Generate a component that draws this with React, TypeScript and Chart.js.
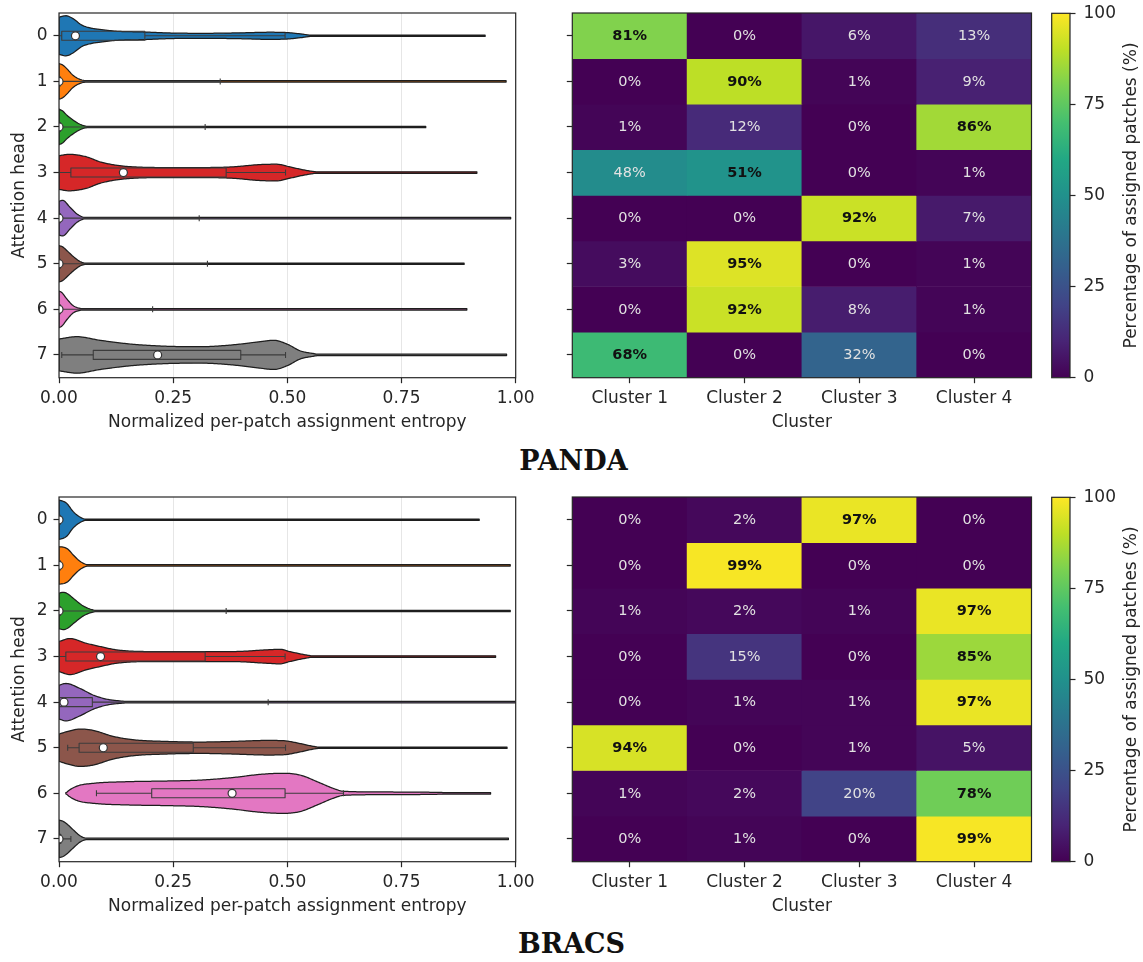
import React, { useEffect, useRef } from 'react';
import { Chart, registerables } from 'chart.js';

Chart.register(...registerables);
Chart.defaults.font.family = "'DejaVu Sans', sans-serif";

// ---------------- categories & ticks ----------------
const HEADS = ['0', '1', '2', '3', '4', '5', '6', '7'];
const CLUSTERS = ['Cluster 1', 'Cluster 2', 'Cluster 3', 'Cluster 4'];
const ENTROPY_TICKS = [0, 0.25, 0.5, 0.75, 1.0];
const PERCENT_TICKS = [0, 25, 50, 75, 100];
const HEAD_COLORS = ['#1f77b4', '#ff7f0e', '#2ca02c', '#d62728', '#9467bd', '#8c564b', '#e377c2', '#7f7f7f'];
const VIRIDIS = ['#440154', '#482475', '#414487', '#355f8d', '#2a788e', '#21918c', '#22a884', '#44bf70', '#7ad151', '#bddf26', '#fde725'];

// ---------------- heatmap values (% of patches, per head row) ----------------
const pandaCluster1 = [81, 0, 1, 48, 0, 3, 0, 68];
const pandaCluster2 = [0, 90, 12, 51, 0, 95, 92, 0];
const pandaCluster3 = [6, 1, 0, 0, 92, 0, 8, 32];
const pandaCluster4 = [13, 9, 86, 1, 7, 1, 1, 0];

const bracsCluster1 = [0, 0, 1, 0, 0, 94, 1, 0];
const bracsCluster2 = [2, 99, 2, 15, 1, 0, 2, 1];
const bracsCluster3 = [97, 0, 1, 0, 1, 1, 20, 0];
const bracsCluster4 = [0, 0, 97, 85, 97, 5, 78, 99];

// ---------------- violin density profiles: [entropy, half-width in head units] ----------------
const pandaProfiles = [
  [[0, 0.41], [0.015, 0.44], [0.03, 0.38], [0.05, 0.235], [0.07, 0.17], [0.09, 0.14], [0.126, 0.1], [0.18, 0.085], [0.25, 0.06], [0.32, 0.055], [0.4, 0.065], [0.46, 0.078], [0.5, 0.07], [0.53, 0.04], [0.556, 0.01]],
  [[0, 0.39], [0.008, 0.36], [0.017, 0.28], [0.031, 0.13], [0.046, 0.045], [0.06, 0.012], [0.08, 0.003]],
  [[0, 0.39], [0.008, 0.35], [0.017, 0.26], [0.031, 0.15], [0.046, 0.06], [0.057, 0.022], [0.075, 0.005]],
  [[0, 0.37], [0.022, 0.4], [0.06, 0.345], [0.09, 0.235], [0.126, 0.16], [0.163, 0.125], [0.236, 0.11], [0.31, 0.11], [0.38, 0.125], [0.44, 0.175], [0.476, 0.183], [0.505, 0.125], [0.54, 0.05], [0.57, 0.012]],
  [[0, 0.37], [0.008, 0.39], [0.024, 0.24], [0.039, 0.095], [0.053, 0.022], [0.07, 0.004]],
  [[0, 0.4], [0.008, 0.37], [0.017, 0.29], [0.031, 0.16], [0.046, 0.05], [0.056, 0.015], [0.07, 0.004]],
  [[0, 0.4], [0.006, 0.37], [0.017, 0.23], [0.031, 0.08], [0.046, 0.022], [0.06, 0.004]],
  [[0, 0.35], [0.039, 0.4], [0.09, 0.32], [0.16, 0.235], [0.236, 0.19], [0.309, 0.18], [0.38, 0.22], [0.44, 0.29], [0.47, 0.32], [0.5, 0.235], [0.528, 0.09], [0.557, 0.03], [0.575, 0.005]],
];
const pandaMax = [0.933, 0.979, 0.803, 0.915, 0.989, 0.887, 0.893, 0.98];
const pandaQ1 = [0.006, 0, 0, 0.026, 0, 0, 0, 0.075];
const pandaQ3 = [0.188, 0.003, 0.003, 0.366, 0.003, 0.003, 0.003, 0.398];
const pandaMedian = [0.036, 0, 0, 0.141, 0, 0, 0, 0.216];
const pandaWhiskerLo = [0, 0, 0, 0, 0, 0, 0, 0.006];
const pandaWhiskerHi = [0.495, 0.353, 0.32, 0.496, 0.307, 0.325, 0.205, 0.496];

const bracsProfiles = [
  [[0, 0.43], [0.008, 0.41], [0.017, 0.36], [0.031, 0.18], [0.046, 0.06], [0.057, 0.015], [0.075, 0.004]],
  [[0, 0.41], [0.01, 0.4], [0.02, 0.35], [0.031, 0.23], [0.046, 0.09], [0.06, 0.02], [0.075, 0.004]],
  [[0, 0.39], [0.01, 0.41], [0.02, 0.37], [0.031, 0.28], [0.053, 0.11], [0.075, 0.022], [0.09, 0.004]],
  [[0, 0.33], [0.024, 0.395], [0.06, 0.29], [0.09, 0.22], [0.126, 0.147], [0.2, 0.11], [0.31, 0.11], [0.38, 0.11], [0.455, 0.147], [0.484, 0.16], [0.505, 0.11], [0.54, 0.037], [0.565, 0.005]],
  [[0, 0.37], [0.015, 0.41], [0.046, 0.3], [0.075, 0.155], [0.104, 0.066], [0.13, 0.03], [0.16, 0.01], [0.2, 0.004]],
  [[0, 0.3], [0.02, 0.36], [0.046, 0.41], [0.075, 0.38], [0.118, 0.25], [0.163, 0.175], [0.236, 0.138], [0.31, 0.125], [0.38, 0.138], [0.455, 0.16], [0.49, 0.155], [0.53, 0.088], [0.557, 0.03], [0.58, 0.005]],
  [[0.015, 0], [0.02, 0.05], [0.04, 0.16], [0.076, 0.22], [0.15, 0.255], [0.236, 0.27], [0.31, 0.29], [0.38, 0.345], [0.44, 0.415], [0.49, 0.44], [0.528, 0.4], [0.57, 0.235], [0.6, 0.11], [0.623, 0.045], [0.7, 0.03], [0.8, 0.025], [0.87, 0.012], [0.92, 0.004]],
  [[0, 0.41], [0.008, 0.39], [0.017, 0.33], [0.031, 0.2], [0.046, 0.07], [0.057, 0.02], [0.075, 0.004]],
];
const bracsMax = [0.92, 0.988, 0.988, 0.956, 1.0, 0.981, 0.945, 0.984];
const bracsQ1 = [0, 0, 0, 0.015, 0, 0.044, 0.203, 0];
const bracsQ3 = [0.003, 0.003, 0.003, 0.32, 0.073, 0.294, 0.495, 0.004];
const bracsMedian = [0, 0, 0, 0.091, 0.011, 0.097, 0.379, 0];
const bracsWhiskerLo = [0, 0, 0, 0, 0, 0.019, 0.082, 0];
const bracsWhiskerHi = [0.004, 0.004, 0.366, 0.495, 0.458, 0.496, 0.623, 0.026];

// ---------------- style constants ----------------
const TEXT = '#262626';
const FONT = { family: "'DejaVu Sans', sans-serif", size: 17 };
const CANVAS_H = 435;
const AREA_TOP = 13;
const AREA_BOTTOM = 377.7;
const VIOLIN_W = 545;
const HEAT_LEFT = 545;
const HEAT_W = 495;
const CBAR_LEFT = 1040;
const CBAR_W = 103;

function hexToRgb(h: string) {
  const n = parseInt(h.slice(1), 16);
  return [(n >> 16) & 255, (n >> 8) & 255, n & 255];
}
function viridis(v: number) {
  const t = Math.max(0, Math.min(1, v / 100)) * (VIRIDIS.length - 1);
  const i = Math.min(Math.floor(t), VIRIDIS.length - 2);
  const f = t - i;
  const a = hexToRgb(VIRIDIS[i]);
  const b = hexToRgb(VIRIDIS[i + 1]);
  const c = a.map((x, k) => Math.round(x + (b[k] - x) * f));
  return `rgb(${c[0]},${c[1]},${c[2]})`;
}

function monotone(pts: number[][]) {
  const n = pts.length;
  const xs = pts.map((p) => p[0]);
  const ys = pts.map((p) => p[1]);
  const d: number[] = [];
  const m: number[] = new Array(n).fill(0);
  for (let i = 0; i < n - 1; i++) d[i] = (ys[i + 1] - ys[i]) / (xs[i + 1] - xs[i]);
  m[0] = d[0];
  m[n - 1] = d[n - 2];
  for (let i = 1; i < n - 1; i++) m[i] = d[i - 1] * d[i] <= 0 ? 0 : (d[i - 1] + d[i]) / 2;
  for (let i = 0; i < n - 1; i++) {
    if (d[i] === 0) { m[i] = 0; m[i + 1] = 0; continue; }
    const a = m[i] / d[i];
    const b = m[i + 1] / d[i];
    const s = a * a + b * b;
    if (s > 9) {
      const t = 3 / Math.sqrt(s);
      m[i] = t * a * d[i];
      m[i + 1] = t * b * d[i];
    }
  }
  return (v: number) => {
    if (v <= xs[0]) return ys[0];
    if (v >= xs[n - 1]) return ys[n - 1];
    let i = 0;
    while (i < n - 2 && v > xs[i + 1]) i++;
    const h = xs[i + 1] - xs[i];
    const t = (v - xs[i]) / h;
    const t2 = t * t;
    const t3 = t2 * t;
    return (2 * t3 - 3 * t2 + 1) * ys[i] + (t3 - 2 * t2 + t) * h * m[i] + (-2 * t3 + 3 * t2) * ys[i + 1] + (t3 - t2) * h * m[i + 1];
  };
}

// keep the plot area exactly where the layout padding puts it
const noPad = (s: any) => {
  s.paddingTop = 0;
  s.paddingBottom = 0;
  s.paddingLeft = 0;
  s.paddingRight = 0;
};

const framePlugin = {
  id: 'frame',
  afterDraw(chart: any) {
    const { ctx, chartArea: a } = chart;
    ctx.save();
    ctx.strokeStyle = TEXT;
    ctx.lineWidth = 1.2;
    ctx.strokeRect(a.left, a.top, a.right - a.left, a.bottom - a.top);
    ctx.restore();
  },
};

function violinPlugin(spec: any) {
  return {
    id: 'violins',
    beforeDatasetsDraw(chart: any) {
      const { ctx, chartArea: a, scales } = chart;
      const xs = scales.x;
      const ys = scales.y;
      const unit = Math.abs(ys.getPixelForValue(1) - ys.getPixelForValue(0));
      ctx.save();
      ctx.beginPath();
      ctx.rect(a.left, a.top, a.right - a.left, a.bottom - a.top);
      ctx.clip();
      spec.profiles.forEach((prof: number[][], i: number) => {
        const cy = ys.getPixelForValue(i);
        const pts = prof.concat([[spec.max[i], 0]]);
        const f = monotone(pts);
        const px0 = xs.getPixelForValue(pts[0][0]);
        const px1 = xs.getPixelForValue(spec.max[i]);
        const samples: number[][] = [];
        for (let px = px0; px < px1; px += 1) {
          const v = xs.getValueForPixel(px);
          samples.push([px, Math.max(f(v) * unit, 0.7)]);
        }
        samples.push([px1, 0.7]);
        ctx.beginPath();
        samples.forEach(([px, hw], k) => (k === 0 ? ctx.moveTo(px, cy - hw) : ctx.lineTo(px, cy - hw)));
        for (let k = samples.length - 1; k >= 0; k--) ctx.lineTo(samples[k][0], cy + samples[k][1]);
        ctx.closePath();
        ctx.fillStyle = HEAD_COLORS[i];
        ctx.fill();
        ctx.strokeStyle = '#1e1e1e';
        ctx.lineWidth = 1.25;
        ctx.lineJoin = 'round';
        ctx.stroke();

        // inner box plot
        const q1 = xs.getPixelForValue(spec.q1[i]);
        const q3 = xs.getPixelForValue(spec.q3[i]);
        const wl = xs.getPixelForValue(spec.wlo[i]);
        const wh = xs.getPixelForValue(spec.whi[i]);
        ctx.strokeStyle = '#3c3c3c';
        ctx.lineWidth = 1.1;
        if (q3 - q1 > 1) ctx.strokeRect(q1, cy - 4.5, q3 - q1, 9);
        ctx.beginPath();
        ctx.moveTo(wl, cy); ctx.lineTo(q1, cy);
        ctx.moveTo(q3, cy); ctx.lineTo(wh, cy);
        ctx.moveTo(wl, cy - 3); ctx.lineTo(wl, cy + 3);
        ctx.moveTo(wh, cy - 3); ctx.lineTo(wh, cy + 3);
        ctx.stroke();
      });
      ctx.restore();
    },
  };
}

function heatLabelPlugin(rows: number[][]) {
  return {
    id: 'heatLabels',
    afterDatasetsDraw(chart: any) {
      const { ctx } = chart;
      ctx.save();
      ctx.textAlign = 'center';
      ctx.textBaseline = 'middle';
      rows.forEach((row, r) => {
        const meta = chart.getDatasetMeta(r);
        row.forEach((v, c) => {
          const el = meta.data[c];
          const big = v > 50;
          ctx.font = `${big ? 'bold ' : ''}14.5px 'DejaVu Sans', sans-serif`;
          ctx.fillStyle = big ? '#111111' : '#e2e2e2';
          ctx.fillText(`${v}%`, el.x, (el.y + el.base) / 2 + 0.5);
        });
      });
      ctx.restore();
    },
  };
}

const colorbarTitlePlugin = {
  id: 'cbarTitle',
  afterDraw(chart: any) {
    const { ctx, chartArea: a } = chart;
    ctx.save();
    ctx.translate(92, (a.top + a.bottom) / 2);
    ctx.rotate(-Math.PI / 2);
    ctx.textAlign = 'center';
    ctx.textBaseline = 'middle';
    ctx.font = `17px 'DejaVu Sans', sans-serif`;
    ctx.fillStyle = TEXT;
    ctx.fillText('Percentage of assigned patches (%)', 0, 0);
    ctx.restore();
  },
};

const tickGrid = { drawOnChartArea: false, tickLength: 5.5, tickColor: TEXT, tickWidth: 1.2 };

function violinConfig(spec: any): any {
  return {
    type: 'scatter',
    data: {
      datasets: [{
        data: spec.median.map((m: number, i: number) => ({ x: m, y: i })),
        pointRadius: 4,
        pointBackgroundColor: '#ffffff',
        pointBorderColor: '#333333',
        pointBorderWidth: 1.2,
        clip: 0,
      }],
    },
    options: {
      responsive: false,
      animation: false,
      events: [],
      layout: { padding: { top: AREA_TOP, right: VIOLIN_W - 515.7, left: 0, bottom: 0 } },
      plugins: { legend: { display: false }, tooltip: { enabled: false } },
      scales: {
        x: {
          type: 'linear', min: 0, max: 1,
          afterBuildTicks: (s: any) => { s.ticks = ENTROPY_TICKS.map((v) => ({ value: v })); },
          ticks: { callback: (v: any) => Number(v).toFixed(2), font: FONT, color: TEXT, padding: 5, maxRotation: 0 },
          grid: { color: '#e6e6e6', lineWidth: 1, tickColor: TEXT, tickLength: 5.5, tickWidth: 1.2 },
          border: { display: false },
          title: { display: true, text: 'Normalized per-patch assignment entropy', font: FONT, color: TEXT, padding: { top: 0, bottom: 2.5 } },
          afterFit: (s: any) => { s.height = CANVAS_H - AREA_BOTTOM; noPad(s); },
        },
        y: {
          type: 'linear', min: -0.5, max: 7.5, reverse: true,
          afterBuildTicks: (s: any) => { s.ticks = HEADS.map((_, i) => ({ value: i })); },
          ticks: { callback: (v: any) => HEADS[Math.round(v)], font: FONT, color: TEXT, padding: 6 },
          grid: tickGrid,
          border: { display: false },
          title: { display: true, text: 'Attention head', font: FONT, color: TEXT, padding: { top: 9, bottom: 0 } },
          afterFit: (s: any) => { s.width = 59; noPad(s); },
        },
      },
    },
    plugins: [violinPlugin(spec), framePlugin],
  };
}

function heatConfig(spec: any): any {
  const rows = HEADS.map((_, r) => spec.columns.map((col: number[]) => col[r]));
  return {
    type: 'bar',
    data: {
      labels: CLUSTERS,
      datasets: rows.map((row: number[], r: number) => ({
        data: row.map(() => [r, r + 1]),
        backgroundColor: row.map((v) => viridis(v)),
        borderWidth: 0,
        grouped: false,
        barPercentage: 1,
        categoryPercentage: 1,
      })),
    },
    options: {
      responsive: false,
      animation: false,
      events: [],
      layout: { padding: { top: AREA_TOP, right: HEAT_W - 486.5, left: 0, bottom: 0 } },
      plugins: { legend: { display: false }, tooltip: { enabled: false } },
      scales: {
        x: {
          grid: { ...tickGrid, offset: false },
          ticks: { font: FONT, color: TEXT, padding: 5, maxRotation: 0 },
          border: { display: false },
          title: { display: true, text: 'Cluster', font: FONT, color: TEXT, padding: { top: 0, bottom: 2.5 } },
          afterFit: (s: any) => { s.height = CANVAS_H - AREA_BOTTOM; noPad(s); },
        },
        y: {
          type: 'linear', min: 0, max: 8, reverse: true,
          afterBuildTicks: (s: any) => { s.ticks = HEADS.map((_, i) => ({ value: i + 0.5 })); },
          ticks: { callback: () => '', font: FONT },
          grid: tickGrid,
          border: { display: false },
          afterFit: (s: any) => { s.width = 572.3 - HEAT_LEFT; noPad(s); },
        },
      },
    },
    plugins: [heatLabelPlugin(rows), framePlugin],
  };
}

function colorbarConfig(): any {
  return {
    type: 'bar',
    data: {
      labels: [''],
      datasets: [{
        data: [[0, 100]],
        backgroundColor: (c: any) => {
          const { chart } = c;
          const a = chart.chartArea;
          if (!a) return VIRIDIS[0];
          const g = chart.ctx.createLinearGradient(0, a.bottom, 0, a.top);
          VIRIDIS.forEach((col, i) => g.addColorStop(i / (VIRIDIS.length - 1), col));
          return g;
        },
        borderWidth: 0,
        barPercentage: 1,
        categoryPercentage: 1,
      }],
    },
    options: {
      responsive: false,
      animation: false,
      events: [],
      layout: { padding: { top: 13.3, bottom: CANVAS_H - AREA_BOTTOM, left: 1051.7 - CBAR_LEFT, right: 0 } },
      plugins: { legend: { display: false }, tooltip: { enabled: false } },
      scales: {
        x: { display: false },
        y: {
          position: 'right', min: 0, max: 100,
          afterBuildTicks: (s: any) => { s.ticks = PERCENT_TICKS.map((v) => ({ value: v })); },
          ticks: { font: FONT, color: TEXT, padding: 8 },
          grid: tickGrid,
          border: { display: false },
          afterFit: (s: any) => { s.width = CBAR_W - (1070 - CBAR_LEFT); noPad(s); },
        },
      },
    },
    plugins: [framePlugin, colorbarTitlePlugin],
  };
}

function Panel({ spec }: { spec: any }) {
  const vRef = useRef<HTMLCanvasElement>(null);
  const hRef = useRef<HTMLCanvasElement>(null);
  const cRef = useRef<HTMLCanvasElement>(null);
  useEffect(() => {
    const charts = [
      new Chart(vRef.current as HTMLCanvasElement, violinConfig(spec)),
      new Chart(hRef.current as HTMLCanvasElement, heatConfig(spec)),
      new Chart(cRef.current as HTMLCanvasElement, colorbarConfig()),
    ];
    return () => charts.forEach((c) => c.destroy());
  }, [spec]);
  const base = { position: 'absolute' as const, top: spec.top, height: CANVAS_H };
  return (
    <>
      <canvas ref={vRef} width={VIOLIN_W} height={CANVAS_H} style={{ ...base, left: 0, width: VIOLIN_W }} />
      <canvas ref={hRef} width={HEAT_W} height={CANVAS_H} style={{ ...base, left: HEAT_LEFT, width: HEAT_W }} />
      <canvas ref={cRef} width={CBAR_W} height={CANVAS_H} style={{ ...base, left: CBAR_LEFT, width: CBAR_W }} />
      <div
        style={{
          position: 'absolute', left: 0, width: 1143, top: spec.titleTop, textAlign: 'center',
          fontFamily: "'DejaVu Serif', serif", fontWeight: 'bold', fontSize: 27, lineHeight: '27px',
          color: '#111', paddingLeft: spec.titleShift, boxSizing: 'border-box',
        }}
      >
        {spec.title}
      </div>
    </>
  );
}

const PANDA_SPEC = {
  top: 0, title: 'PANDA', titleTop: 447, titleShift: 4,
  profiles: pandaProfiles, max: pandaMax, q1: pandaQ1, q3: pandaQ3, median: pandaMedian,
  wlo: pandaWhiskerLo, whi: pandaWhiskerHi,
  columns: [pandaCluster1, pandaCluster2, pandaCluster3, pandaCluster4],
};
const BRACS_SPEC = {
  top: 484, title: 'BRACS', titleTop: 930, titleShift: -4,
  profiles: bracsProfiles, max: bracsMax, q1: bracsQ1, q3: bracsQ3, median: bracsMedian,
  wlo: bracsWhiskerLo, whi: bracsWhiskerHi,
  columns: [bracsCluster1, bracsCluster2, bracsCluster3, bracsCluster4],
};

export default function App() {
  return (
    <div style={{ position: 'absolute', left: 0, top: 0, width: 1143, height: 962, background: '#fff', overflow: 'hidden' }}>
      <Panel spec={PANDA_SPEC} />
      <Panel spec={BRACS_SPEC} />
    </div>
  );
}
